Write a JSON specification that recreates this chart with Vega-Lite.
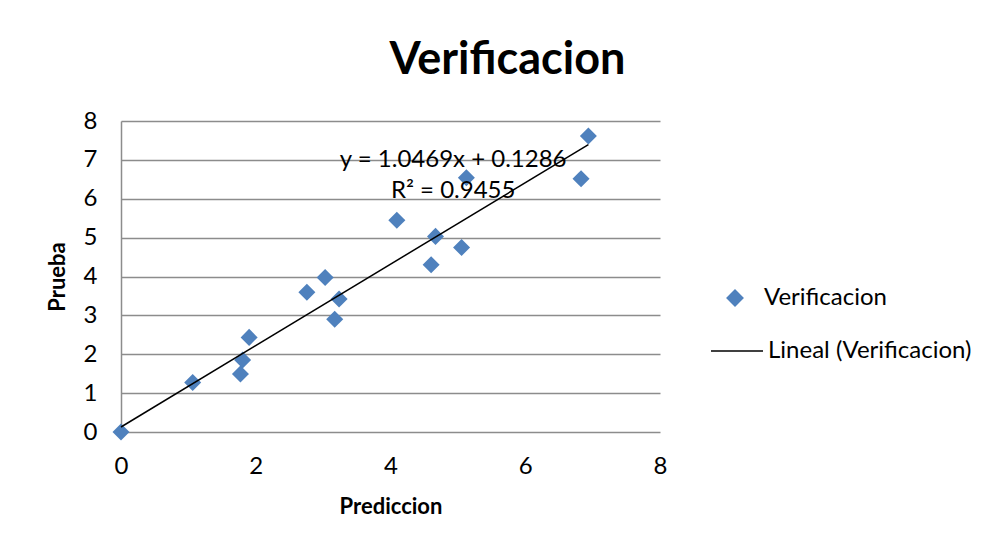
{
  "$schema": "https://vega.github.io/schema/vega-lite/v6.json",
  "width": 539,
  "height": 311,
  "autosize": {"type": "none"},
  "padding": {"left": 121, "top": 121, "right": 335, "bottom": 118},
  "background": "white",
  "config": {
    "font": "Lato",
    "view": {"stroke": null},
    "axis": {"labelFont": "Lato", "titleFont": "Lato", "labelColor": "#000000", "titleColor": "#000000"},
    "legend": {"padding": 0}
  },
  "title": {
    "text": "Verificacion",
    "font": "Lato",
    "fontSize": 45,
    "fontWeight": "bold",
    "color": "#000000",
    "anchor": "middle",
    "frame": "group",
    "dx": 117,
    "offset": 26
  },
  "datasets": {
    "puntos": [
      {"Prediccion": 0.0, "Prueba": 0.0, "serie": "Verificacion"},
      {"Prediccion": 1.064, "Prueba": 1.273, "serie": "Verificacion"},
      {"Prediccion": 1.773, "Prueba": 1.49, "serie": "Verificacion"},
      {"Prediccion": 1.805, "Prueba": 1.85, "serie": "Verificacion"},
      {"Prediccion": 1.902, "Prueba": 2.434, "serie": "Verificacion"},
      {"Prediccion": 2.759, "Prueba": 3.596, "serie": "Verificacion"},
      {"Prediccion": 3.03, "Prueba": 3.974, "serie": "Verificacion"},
      {"Prediccion": 3.237, "Prueba": 3.424, "serie": "Verificacion"},
      {"Prediccion": 3.172, "Prueba": 2.899, "serie": "Verificacion"},
      {"Prediccion": 4.094, "Prueba": 5.445, "serie": "Verificacion"},
      {"Prediccion": 4.603, "Prueba": 4.301, "serie": "Verificacion"},
      {"Prediccion": 4.668, "Prueba": 5.032, "serie": "Verificacion"},
      {"Prediccion": 5.055, "Prueba": 4.748, "serie": "Verificacion"},
      {"Prediccion": 5.126, "Prueba": 6.538, "serie": "Verificacion"},
      {"Prediccion": 6.828, "Prueba": 6.512, "serie": "Verificacion"},
      {"Prediccion": 6.937, "Prueba": 7.613, "serie": "Verificacion"}
    ],
    "tendencia": [
      {"Prediccion": 0.0, "Prueba": 0.1286, "serie": "Lineal (Verificacion)"},
      {"Prediccion": 6.937, "Prueba": 7.391, "serie": "Lineal (Verificacion)"}
    ],
    "ecuacion": [
      {"Prediccion": 4.93, "Prueba": 7.0, "texto": "y = 1.0469x + 0.1286"},
      {"Prediccion": 4.93, "Prueba": 6.2, "texto": "R² = 0.9455"}
    ]
  },
  "encoding": {
    "x": {
      "field": "Prediccion",
      "type": "quantitative",
      "scale": {"domain": [0, 8], "nice": false, "zero": true},
      "axis": {
        "title": "Prediccion",
        "titleFontSize": 22,
        "titleFontWeight": "bold",
        "titlePadding": 18,
        "labelFontSize": 24,
        "labelPadding": 22,
        "labelFlush": false,
        "values": [0, 2, 4, 6, 8],
        "ticks": false,
        "grid": false,
        "domain": false
      }
    },
    "y": {
      "field": "Prueba",
      "type": "quantitative",
      "scale": {"domain": [0, 8], "nice": false},
      "axis": {
        "title": "Prueba",
        "titleFontSize": 22,
        "titleFontWeight": "bold",
        "titlePadding": 14,
        "labelFontSize": 24,
        "labelPadding": 24,
        "values": [0, 1, 2, 3, 4, 5, 6, 7, 8],
        "ticks": false,
        "grid": true,
        "gridColor": "#8c8c8c",
        "gridWidth": 1.5,
        "domain": true,
        "domainColor": "#8c8c8c",
        "domainWidth": 1.5
      }
    }
  },
  "layer": [
    {
      "data": {"name": "puntos"},
      "mark": {"type": "point", "shape": "diamond", "filled": true, "size": 290, "opacity": 1},
      "encoding": {
        "color": {
          "field": "serie",
          "type": "nominal",
          "scale": {"domain": ["Verificacion"], "range": ["#4F81BD"]},
          "legend": {
            "title": null,
            "orient": "none",
            "legendX": 602,
            "legendY": 165,
            "labelFont": "Lato",
            "labelFontSize": 24,
            "labelColor": "#000000",
            "labelLimit": 400,
            "labelOffset": 17,
            "symbolType": "diamond",
            "symbolSize": 320,
            "symbolOpacity": 1
          }
        }
      }
    },
    {
      "data": {"name": "tendencia"},
      "mark": {"type": "line", "strokeWidth": 1.5},
      "encoding": {
        "stroke": {
          "field": "serie",
          "type": "nominal",
          "scale": {"domain": ["Lineal (Verificacion)"], "range": ["#000000"]},
          "legend": {
            "title": null,
            "orient": "none",
            "legendX": 589,
            "legendY": 203,
            "labelFont": "Lato",
            "labelFontSize": 24,
            "labelColor": "#000000",
            "labelLimit": 400,
            "labelOffset": 4,
            "symbolType": "stroke",
            "symbolSize": 2704,
            "symbolStrokeWidth": 1.5,
            "symbolStrokeColor": "#000000"
          }
        }
      }
    },
    {
      "data": {"name": "ecuacion"},
      "mark": {"type": "text", "font": "Lato", "fontSize": 24, "color": "#000000", "baseline": "middle", "align": "center"},
      "encoding": {"text": {"field": "texto", "type": "nominal"}}
    }
  ]
}
